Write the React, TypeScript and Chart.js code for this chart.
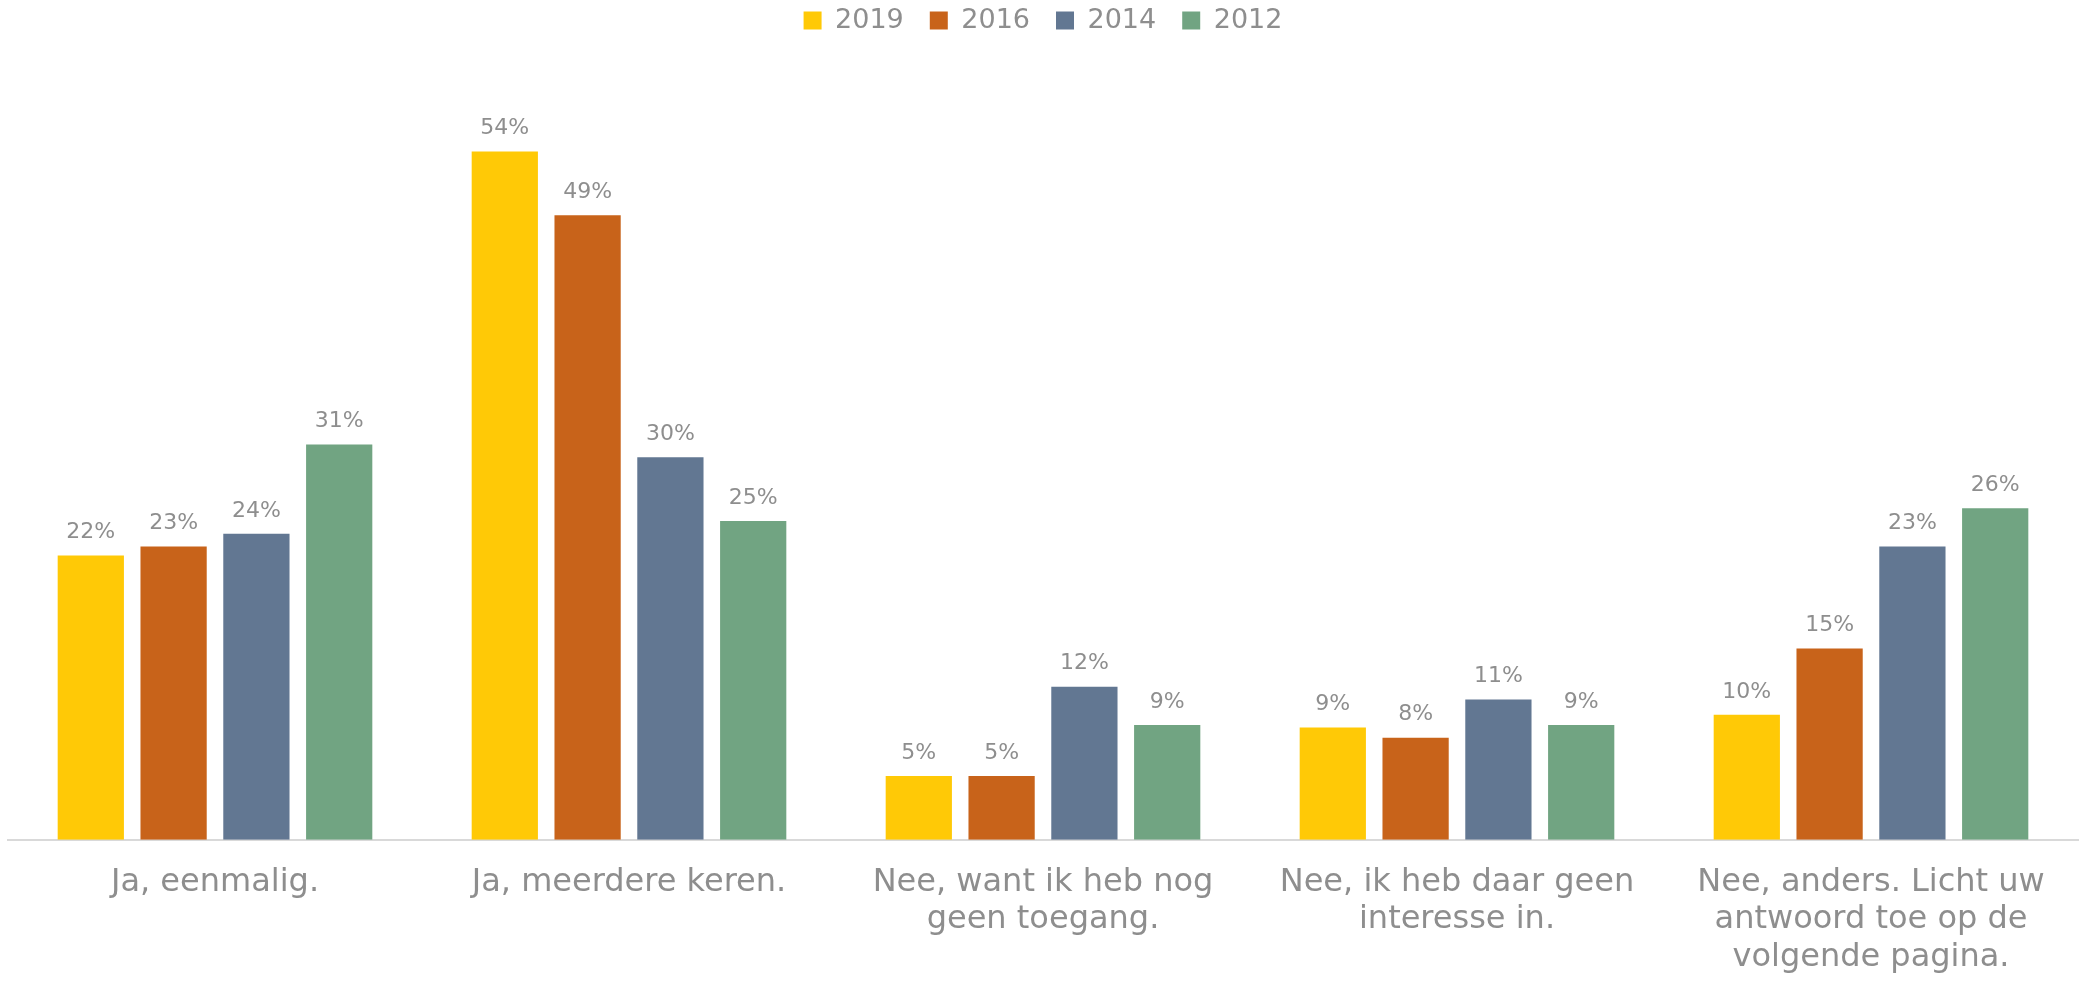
import React, { useEffect, useRef } from "react";
import { Chart, registerables } from "chart.js";

Chart.register(...registerables);

const categories: (string | string[])[] = [
  "Ja, eenmalig.",
  "Ja, meerdere keren.",
  ["Nee, want ik heb nog", "geen toegang."],
  ["Nee, ik heb daar geen", "interesse in."],
  ["Nee, anders. Licht uw", "antwoord toe op de", "volgende pagina."],
];

const values2019 = [22.3, 54, 5, 8.8, 9.8];
const values2016 = [23, 49, 5, 8, 15];
const values2014 = [24, 30, 12, 11, 23];
const values2012 = [31, 25, 9, 9, 26];

const seriesNames = ["2019", "2016", "2014", "2012"];
const seriesColors = ["#FFC906", "#C8631A", "#627792", "#71A482"];

const TEXT = "#8E8E8E";
const FONT = "'DejaVu Sans', sans-serif";

const valueLabels = {
  id: "valueLabels",
  afterDatasetsDraw(chart: any) {
    const ctx = chart.ctx;
    ctx.save();
    ctx.font = `22px ${FONT}`;
    ctx.fillStyle = TEXT;
    ctx.textAlign = "center";
    ctx.textBaseline = "bottom";
    chart.data.datasets.forEach((ds: any, i: number) => {
      const meta = chart.getDatasetMeta(i);
      meta.data.forEach((bar: any, j: number) => {
        const v = ds.data[j];
        ctx.fillText(`${Math.round(v)}%`, bar.x, bar.y - 12);
      });
    });
    ctx.restore();
  },
};

const legendHeight = {
  id: "legendHeight",
  beforeInit(chart: any) {
    const legend = chart.legend;
    if (!legend) return;
    const origFit = legend.fit;
    legend.fit = function () {
      origFit.call(this);
      this.height = 94;
    };
  },
};

export default function App() {
  const ref = useRef<HTMLCanvasElement>(null);
  useEffect(() => {
    if (!ref.current) return;
    const data = [values2019, values2016, values2014, values2012];
    const chart = new Chart(ref.current, {
      type: "bar",
      data: {
        labels: categories as any,
        datasets: seriesNames.map((name, i) => ({
          label: name,
          data: data[i],
          backgroundColor: seriesColors[i],
          borderWidth: 0,
          categoryPercentage: 0.8,
          barPercentage: 0.8,
        })),
      },
      options: {
        animation: false,
        responsive: true,
        maintainAspectRatio: false,
        layout: { padding: { left: 8, right: 4, top: -19, bottom: -19 } },
        plugins: {
          legend: {
            display: true,
            position: "top",
            labels: {
              boxWidth: 18,
              boxHeight: 18,
              padding: 26,
              color: TEXT,
              font: { family: FONT, size: 27 },
            },
          },
          tooltip: { enabled: false },
        },
        scales: {
          x: {
            grid: { display: false, drawTicks: false },
            border: { display: true, color: "#D9D9D9", width: 2 },
            ticks: {
              color: TEXT,
              font: { family: FONT, size: 32, lineHeight: 1.17 },
              padding: 24,
              autoSkip: false,
              maxRotation: 0,
            },
          },
          y: {
            display: false,
            min: 0,
            max: 60,
          },
        },
      },
      plugins: [valueLabels, legendHeight],
    });
    return () => chart.destroy();
  }, []);
  return (
    <div style={{ position: "absolute", left: 0, top: 0, width: 2082, height: 981, background: "#fff" }}>
      <canvas ref={ref} />
    </div>
  );
}
